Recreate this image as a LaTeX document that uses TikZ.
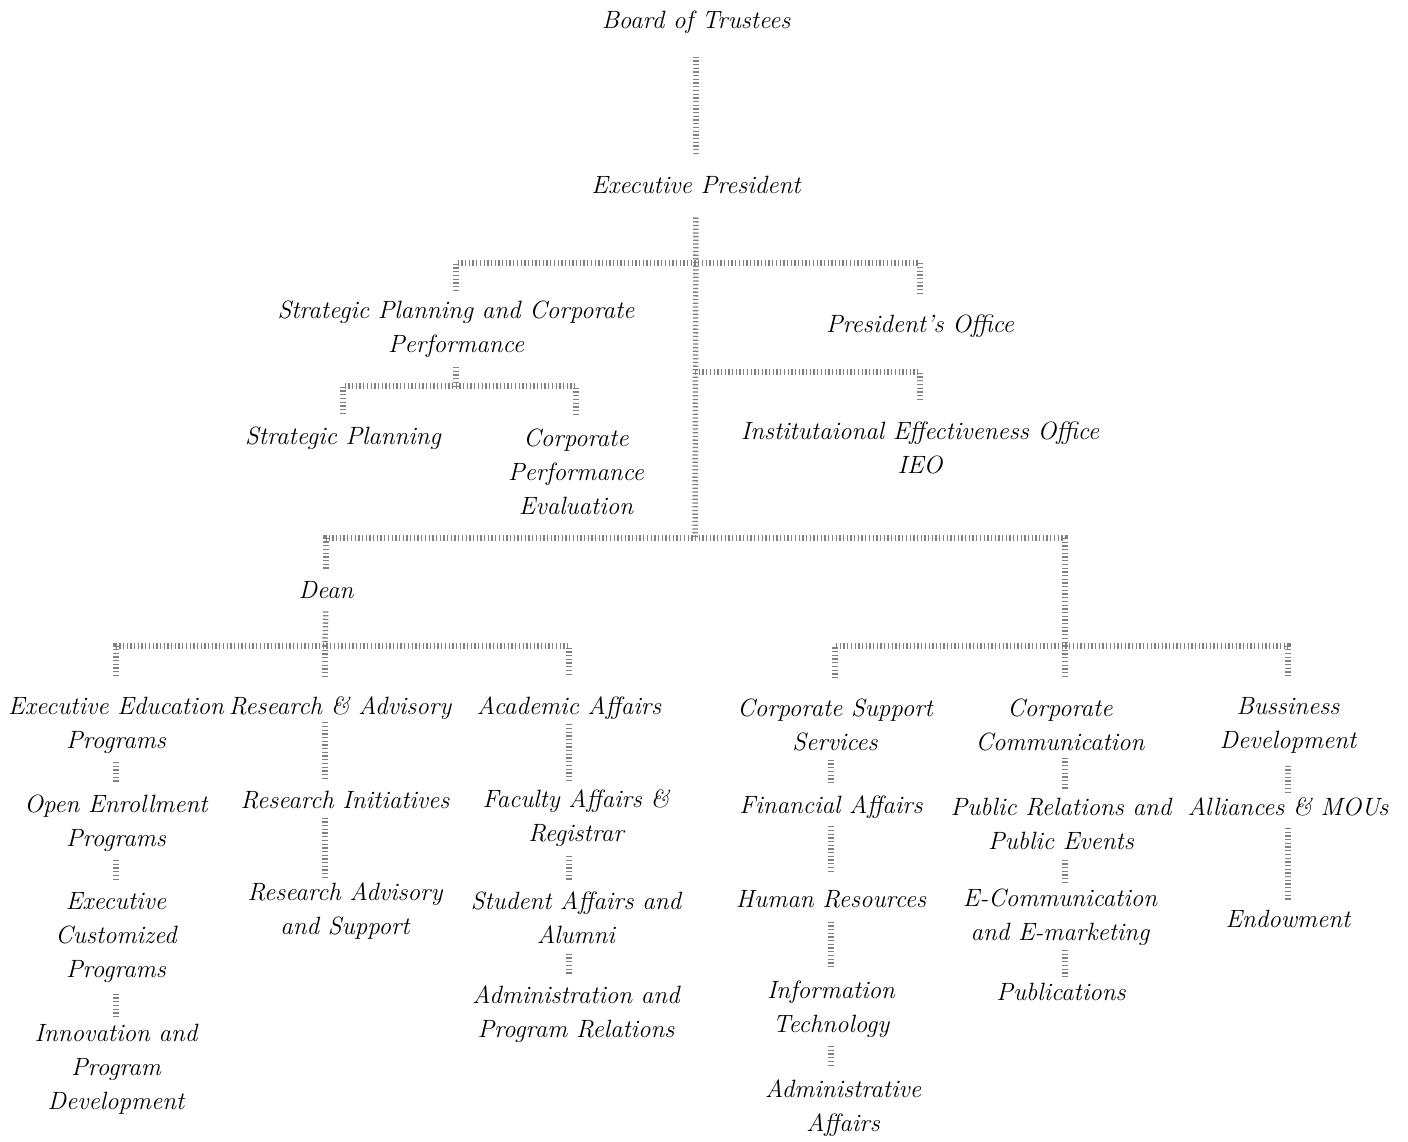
\documentclass[tikz,border=0pt]{standalone}
\usepackage{fontspec}
\usepackage{tikz}
\usetikzlibrary{calc}

\begin{document}
\begin{tikzpicture}[x=1pt, y=-1pt]
\tikzstyle{unit}=[inner sep=0pt, align=center, font=\fontsize{25}{34}\selectfont\itshape]
\tikzstyle{link}=[draw=black!50, line width=5.5pt, dash pattern=on 1.3pt off 2.4pt]
\useasboundingbox (0,0) rectangle (1408,1142);

\node[unit] (bt)    at (696,22)   {Board of Trustees};
\node[unit] (ep)    at (696,185)  {Executive President};
\node[unit] (spcp)  at (456,329)  {Strategic Planning and Corporate\\Performance};
\node[unit] (po)    at (920,326)  {President's Office};
\node[unit] (ieo)   at (920,448)  {Institutaional Effectiveness Office\\IEO};
\node[unit] (sp)    at (343,438)  {Strategic Planning};
\node[unit] (cpe)   at (576,472)  {Corporate\\Performance\\Evaluation};
\node[unit] (dean)  at (326,590)  {Dean};

\node[unit] (eep)   at (116,725)  {Executive Education\\Programs};
\node[unit] (oep)   at (116,823)  {Open Enrollment\\Programs};
\node[unit] (ecp)   at (116,938)  {Executive\\Customized\\Programs};
\node[unit] (ipd)   at (116,1069) {Innovation and\\Program\\Development};
\node[unit] (ra)    at (340,708)  {Research \& Advisory};
\node[unit] (ri)    at (345,800)  {Research Initiatives};
\node[unit] (ras)   at (345,911)  {Research Advisory\\and Support};
\node[unit] (aa)    at (569,708)  {Academic Affairs};
\node[unit] (far)   at (576,818)  {Faculty Affairs \&\\Registrar};
\node[unit] (saa)   at (576,918)  {Student Affairs and\\Alumni};
\node[unit] (apr)   at (576,1014) {Administration and\\Program Relations};

\node[unit] (css)   at (835,725)  {Corporate Support\\Services};
\node[unit] (fa)    at (831,807)  {Financial Affairs};
\node[unit] (hr)    at (831,899)  {Human Resources};
\node[unit] (it)    at (831,1009) {Information\\Technology};
\node[unit] (ada)   at (843,1108) {Administrative\\Affairs};
\node[unit] (cc)    at (1060,725) {Corporate\\Communication};
\node[unit] (prpe)  at (1061,824) {Public Relations and\\Public Events};
\node[unit] (ece)   at (1060,917) {E-Communication\\and E-marketing};
\node[unit] (pub)   at (1061,992) {Publications};
\node[unit] (bd)    at (1288,725) {Bussiness\\Development};
\node[unit] (amou)  at (1288,807) {Alliances \& MOUs};
\node[unit] (endow) at (1288,919) {Endowment};

% junctions of the buses
\coordinate (hb1) at (695,263);
\coordinate (hb2) at (695,372);
\coordinate (spine) at (695,538);
\coordinate (spb) at (456,386);
\coordinate (db) at (325,646);
\coordinate (rb) at (1065,646);

\draw[link, shorten <=23, shorten >=21] (bt.south) -- (ep.north);
\draw[link, shorten <=23.5] (ep.south) -- (spine);
\draw[link, shorten <=9.5, shorten >=21.5] (spcp.north) |- (hb1) -| (po.north);
\draw[link, shorten >=20.5] (hb2) -| (ieo.north);
\draw[link, shorten <=9.5] (spcp.south) -- (spb);
\draw[link, shorten <=12.5, shorten >=12.5] (sp.north) |- (spb) -| (cpe.north);
\draw[link, shorten <=12.5] (dean.north) |- (spine) -| (rb);
\draw[link, shorten <=12.5] (dean.south) -- (db);
\draw[link, shorten <=20.5, shorten >=20.5] (eep.north) |- (db) -| (aa.north);
\draw[link, shorten >=20.5] (db) -- (ra.north -| db);
\draw[link, shorten <=20.5, shorten >=20.5] (css.north) |- (rb) -| (bd.north);
\draw[link, shorten >=20.5] (rb) -- (cc.north -| rb);

% first column
\draw[link, shorten <=8.5, shorten >=12.5] (eep.south) -- (oep.north);
\draw[link, shorten <=8.5, shorten >=10.5] (oep.south) -- (ecp.north);
\draw[link, shorten <=10.5, shorten >=6.5] (ecp.south) -- (ipd.north);
% research
\draw[link, shorten <=2.5, shorten >=10.5] (ra.south -| db) -- (ri.north -| db);
\draw[link, shorten <=8.5, shorten >=5.5] (ri.south -| db) -- (ras.north -| db);
% academic
\draw[link, shorten <=4.5, shorten >=9.5] (aa.south) -- (far.north -| aa);
\draw[link, shorten <=9.5, shorten >=10.5] (far.south -| aa) -- (saa.north -| aa);
\draw[link, shorten <=9.5, shorten >=9.5] (saa.south -| aa) -- (apr.north -| aa);
% corporate support
\draw[link, shorten <=8.5, shorten >=11.5] (css.south -| fa) -- (fa.north);
\draw[link, shorten <=7.5, shorten >=17.5] (fa.south) -- (hr.north);
\draw[link, shorten <=13.5, shorten >=12.5] (hr.south) -- (it.north);
\draw[link, shorten <=8.5, shorten >=11.5] (it.south) -- (ada.north -| it);
% communication
\draw[link, shorten <=6.5, shorten >=9.5] (cc.south -| rb) -- (prpe.north -| rb);
\draw[link, shorten <=9.5, shorten >=3.5] (prpe.south -| rb) -- (ece.north -| rb);
\draw[link, shorten <=4.5, shorten >=4.5] (ece.south -| rb) -- (pub.north -| rb);
% business
\draw[link, shorten <=12.5, shorten >=5.5] (bd.south) -- (amou.north);
\draw[link, shorten <=11.5, shorten >=9.5] (amou.south) -- (endow.north);
\end{tikzpicture}
\end{document}
